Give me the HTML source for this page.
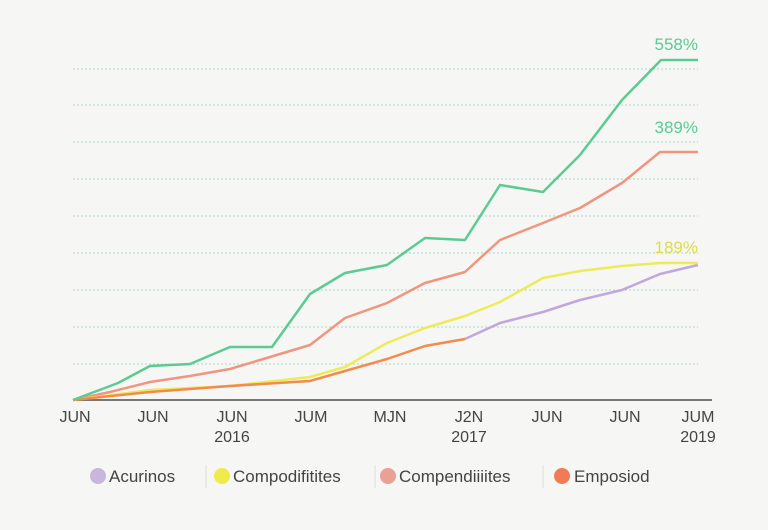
<!DOCTYPE html>
<html><head><style>
body{margin:0;background:#f6f6f5;}
svg{display:block;font-family:"Liberation Sans",sans-serif;}
</style></head><body>
<svg width="768" height="530" viewBox="0 0 768 530">
<rect width="768" height="530" fill="#f6f6f5"/>
<g stroke="#a9d6c6" stroke-width="1" stroke-dasharray="2,2">
<line x1="73" y1="69" x2="698" y2="69"/><line x1="73" y1="105" x2="698" y2="105"/>
<line x1="73" y1="142" x2="698" y2="142"/><line x1="73" y1="179" x2="698" y2="179"/>
<line x1="73" y1="216" x2="698" y2="216"/><line x1="73" y1="253" x2="698" y2="253"/>
<line x1="73" y1="290" x2="698" y2="290"/><line x1="73" y1="327" x2="698" y2="327"/>
<line x1="73" y1="364" x2="698" y2="364"/>
</g>
<line x1="73" y1="400" x2="712" y2="400" stroke="#777" stroke-width="2"/>
<g fill="none" stroke-width="2.5" stroke-linejoin="round">
<polyline stroke="#c0a8db" points="465,339 500,323 543,312 580,300 622,290 660,274 698,265"/>
<polyline stroke="#ef9580" points="73,400 110,392 150,382 190,376 230,369 270,357 310,345 345,318 387,303 425,283 465,272 500,240 543,223 580,208 622,183 660,152 698,152"/>
<polyline stroke="#eeeb5a" points="73,400 150,390 230,386 310,377 345,367 387,343 425,328 465,316 500,302 543,278 580,271 622,266 660,263 698,263"/>
<polyline stroke="#f18c4e" points="73,400 150,392 230,386 310,381 345,371 387,359 425,346 465,339"/>
<polyline stroke="#5ccb93" points="73,400 118,383 150,366 190,364 230,347 272,347 310,294 345,273 387,265 425,238 465,240 500,185 543,192 580,155 622,100 661,60 698,60"/>
</g>
<g font-size="17" text-anchor="end">
<text x="698" y="50" fill="#5ccb93">558%</text>
<text x="698" y="133" fill="#5ccb93">389%</text>
<text x="698" y="253" fill="#dddd4a">189%</text>
</g>
<g font-size="16" fill="#444" text-anchor="middle">
<text x="75" y="422">JUN</text><text x="153" y="422">JUN</text><text x="232" y="422">JUN</text>
<text x="311" y="422">JUM</text><text x="390" y="422">MJN</text><text x="469" y="422">J2N</text>
<text x="547" y="422">JUN</text><text x="625" y="422">JUN</text><text x="698" y="422">JUM</text>
<text x="232" y="442">2016</text><text x="469" y="442">2017</text><text x="698" y="442">2019</text>
</g>
<g font-size="17" fill="#444">
<circle cx="98" cy="476" r="8" fill="#c9b6dc"/><text x="109" y="482">Acurinos</text>
<line x1="206" y1="465" x2="206" y2="488" stroke="#ddd"/>
<circle cx="222" cy="476" r="8" fill="#eeeb4a"/><text x="233" y="482">Compodifitites</text>
<line x1="375" y1="465" x2="375" y2="488" stroke="#ddd"/>
<circle cx="388" cy="476" r="8" fill="#eba095"/><text x="399" y="482">Compendiiiites</text>
<line x1="543" y1="465" x2="543" y2="488" stroke="#ddd"/>
<circle cx="562" cy="476" r="8" fill="#ef7c55"/><text x="574" y="482">Emposiod</text>
</g>
</svg>
</body></html>
